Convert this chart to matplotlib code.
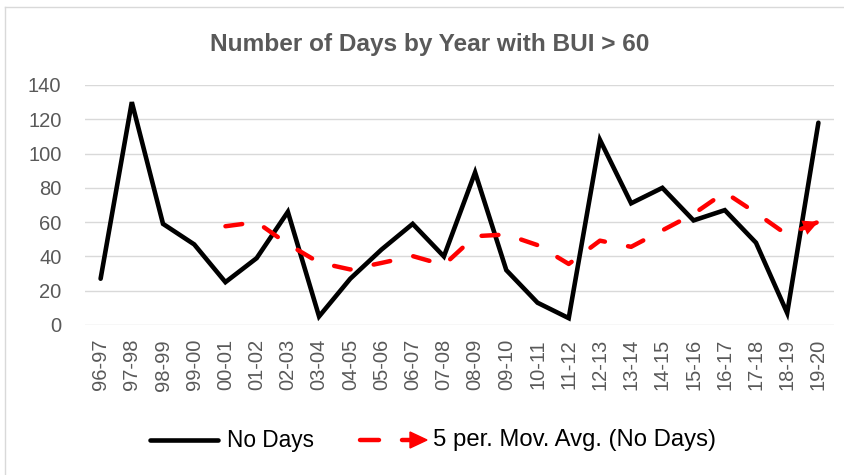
import matplotlib
matplotlib.use("Agg")
import matplotlib.pyplot as plt
from matplotlib.lines import Line2D
from matplotlib.patches import Polygon

# ---- data ----
seasons = ["96-97", "97-98", "98-99", "99-00", "00-01", "01-02", "02-03", "03-04",
           "04-05", "05-06", "06-07", "07-08", "08-09", "09-10", "10-11", "11-12",
           "12-13", "13-14", "14-15", "15-16", "16-17", "17-18", "18-19", "19-20"]
no_days = [27, 130, 59, 47, 25, 39, 66, 5, 27, 44, 59, 40, 89, 32, 13, 4,
           108, 71, 80, 61, 67, 48, 7, 118]
# 5 period moving average (first value at 00-01)
mov_avg = [None, None, None, None, 57.6, 60.0, 47.2, 36.4, 32.4, 36.2, 40.2, 35.0,
           51.8, 52.8, 46.6, 35.6, 49.2, 45.6, 55.2, 64.8, 77.4, 65.4, 52.6, 60.2]
y_ticks = [0, 20, 40, 60, 80, 100, 120, 140]
title = "Number of Days by Year with BUI > 60"
legend_labels = ["No Days", "5 per. Mov. Avg. (No Days)"]

W, H = 845, 475
plt.rcParams['font.family'] = ['Liberation Sans', 'DejaVu Sans']
fig = plt.figure(figsize=(W / 100, H / 100), dpi=100)
fig.patch.set_facecolor("white")

def fx(px):
    return px / W

def fy(py):
    return 1 - py / H

left, right, top, bottom = 85, 834, 85, 325
ax = fig.add_axes([fx(left), fy(bottom), fx(right - left), (bottom - top) / H])

x = list(range(len(seasons)))
ax.plot(x, no_days, color="black", lw=3.3, solid_joinstyle="miter",
        solid_capstyle="round", zorder=3)

ma_x = [i for i, v in zip(x, mov_avg) if v is not None]
ma_y = [v for v in mov_avg if v is not None]
ax.plot(ma_x, ma_y, color="#ff0000", lw=3.2, dashes=(3.8, 5.3),
        dash_capstyle="round", zorder=4)
ax.annotate("", xy=(ma_x[-1], ma_y[-1]), xytext=(ma_x[-2], ma_y[-2]),
            arrowprops=dict(arrowstyle="-|>,head_length=1.1,head_width=0.55",
                            color="#ff0000", lw=0, shrinkA=0, shrinkB=0,
                            mutation_scale=10), zorder=5)

ax.set_xlim(-0.5, len(seasons) - 0.5)
ax.set_ylim(0, 140)
ax.set_yticks(y_ticks)
ax.set_yticklabels([str(t) for t in y_ticks])
ax.set_xticks(x)
ax.set_xticklabels(seasons, rotation=90)
ax.grid(axis="y", color="#d9d9d9", lw=1.0)
ax.set_axisbelow(True)
for s in ax.spines.values():
    s.set_visible(False)
ax.tick_params(axis="both", length=0, colors="#595959", labelsize=14.5)
ax.tick_params(axis="y", pad=17)
ax.tick_params(axis="x", pad=10)

fig.text(fx(430), fy(44), title, ha="center", va="center", fontsize=17.6,
         fontweight="bold", color="#595959")

# legend
fig.add_artist(Line2D([fx(150), fx(218)], [fy(440), fy(440)], color="black",
                      lw=3.3, solid_capstyle="round"))
fig.text(fx(227), fy(440), legend_labels[0], ha="left", va="center",
         fontsize=16.3, color="black")
fig.add_artist(Line2D([fx(360), fx(379)], [fy(440), fy(440)], color="#ff0000",
                      lw=3.2, solid_capstyle="round"))
fig.add_artist(Line2D([fx(402), fx(412)], [fy(440), fy(440)], color="#ff0000",
                      lw=3.2, solid_capstyle="round"))
fig.add_artist(Polygon([[fx(410), fy(432)], [fx(427), fy(440)], [fx(410), fy(448)]],
                       closed=True, color="#ff0000", transform=fig.transFigure))
fig.text(fx(433), fy(440), legend_labels[1], ha="left", va="center",
         fontsize=17.2, color="black")

# chart border (left and top visible)
fig.add_artist(Line2D([fx(5), fx(5)], [fy(7), 0], color="#d9d9d9", lw=1.0))
fig.add_artist(Line2D([fx(5), 1], [fy(7), fy(7)], color="#d9d9d9", lw=1.0))

fig.savefig("out.png", dpi=100, facecolor="white")
